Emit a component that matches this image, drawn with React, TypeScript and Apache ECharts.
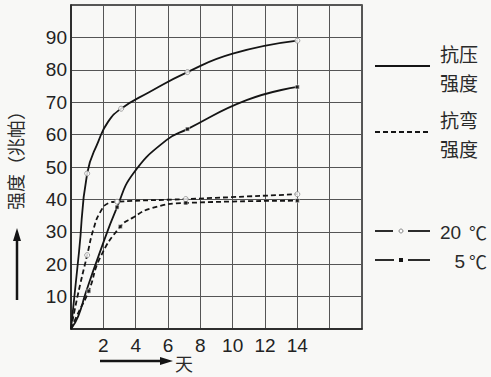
import React, { useEffect, useRef } from 'react';
import * as echarts from 'echarts';

// [day, strength MPa]
const compressive20: number[][] = [[0, 0], [0.5, 24], [1, 48], [1.7, 58], [2.3, 64], [3.1, 68], [4.8, 73], [7.2, 79.3], [10, 85], [14, 89]];
const compressive20Marks: number[][] = [[1, 48], [3.1, 68], [7.2, 79.3], [14, 89]];

const compressive5: number[][] = [[0, 0], [0.45, 4], [0.9, 11], [1.7, 22.5], [2.85, 37.6], [3.85, 48], [5.9, 58.3], [7.2, 61.7], [10.9, 70.7], [14, 74.7]];
const compressive5Marks: number[][] = [[2.85, 37.6], [7.2, 61.7], [14, 74.7]];

const flexural20: number[][] = [[0, 0], [0.4, 10], [1, 22.8], [1.4, 31], [1.8, 36], [2.3, 38.8], [2.85, 39.3], [7.1, 40.1], [14, 41.6]];
const flexural20Marks: number[][] = [[1, 22.8], [2.85, 39.3], [7.1, 40.1], [14, 41.6]];

const flexural5: number[][] = [[0, 0], [0.45, 5], [1.1, 11.7], [1.8, 22], [3.05, 31.6], [3.8, 34.3], [5, 37.3], [7.1, 38.9], [14, 39.6]];
const flexural5Marks: number[][] = [[1.1, 11.7], [3.05, 31.6], [7.1, 38.9], [14, 39.6]];

const xTickLabels = ['2', '4', '6', '8', '10', '12', '14'];
const yTickLabels = ['10', '20', '30', '40', '50', '60', '70', '80', '90'];
const yAxisTitle = '强度（兆帕）';
const xAxisTitle = '天';
const legendCompressive = ['抗压', '强度'];
const legendFlexural = ['抗弯', '强度'];
const legendTemps = ['20', '5'];
const degree = '℃';

const INK = '#151515';
const NUM_FONT = 'Liberation Sans, Arial, sans-serif';
const CJK_FONT = 'Noto Sans CJK SC, sans-serif';

export default function App() {
  const ref = useRef<HTMLDivElement>(null);
  useEffect(() => {
    const chart = echarts.init(ref.current!, null, { renderer: 'svg' });
    const curve = (data: number[][], dashed: boolean) => ({
      type: 'line',
      data,
      smooth: 0.5,
      showSymbol: false,
      symbol: 'none',
      silent: true,
      z: 3,
      lineStyle: { color: INK, width: 1.8, type: dashed ? [5, 3] : 'solid' },
    });
    const marks = (data: number[][], open: boolean) => ({
      type: 'scatter',
      data,
      symbol: open ? 'circle' : 'rect',
      symbolSize: open ? 5 : 4,
      silent: true,
      z: 5,
      itemStyle: open
        ? { color: '#ffffff', borderColor: '#8a8a8a', borderWidth: 1 }
        : { color: INK, borderColor: '#ffffff', borderWidth: 0.6 },
    });
    const text = (t: string, x: number, y: number, extra: any = {}) => ({
      type: 'text',
      x,
      y,
      style: {
        text: t,
        fill: '#2a2a2a',
        fontSize: 19,
        fontFamily: CJK_FONT,
        align: 'left',
        verticalAlign: 'middle',
        ...extra,
      },
    });
    const seg = (x1: number, y1: number, x2: number, y2: number, w = 1.8, dash?: number[]) => ({
      type: 'line',
      shape: { x1, y1, x2, y2 },
      style: { stroke: INK, lineWidth: w, lineDash: dash },
    });

    chart.setOption({
      animation: false,
      backgroundColor: '#f8f8f6',
      grid: {
        left: 71,
        top: 5,
        right: 129,
        bottom: 48,
        show: true,
        borderColor: '#222',
        borderWidth: 1.5,
        backgroundColor: 'transparent',
      },
      xAxis: {
        type: 'value',
        min: 0,
        max: 18,
        interval: 2,
        axisLine: { show: true, lineStyle: { color: '#222', width: 1.5 } },
        axisTick: { show: false },
        splitLine: { show: true, lineStyle: { color: '#555', width: 1 } },
        axisLabel: {
          margin: 7,
          fontSize: 19,
          fontFamily: NUM_FONT,
          color: '#222',
          formatter: (v: number) => (xTickLabels.includes(String(v)) ? String(v) : ''),
        },
      },
      yAxis: {
        type: 'value',
        min: 0,
        max: 100,
        interval: 10,
        axisLine: { show: true, lineStyle: { color: '#222', width: 1.5 } },
        axisTick: { show: false },
        splitLine: { show: true, lineStyle: { color: '#555', width: 1 } },
        axisLabel: {
          margin: 4,
          fontSize: 19,
          fontFamily: NUM_FONT,
          color: '#222',
          formatter: (v: number) => (yTickLabels.includes(String(v)) ? String(v) : ''),
        },
      },
      series: [
        curve(compressive20, false),
        curve(compressive5, false),
        curve(flexural20, true),
        curve(flexural5, true),
        marks(compressive20Marks, true),
        marks(flexural20Marks, true),
        marks(compressive5Marks, false),
        marks(flexural5Marks, false),
      ],
      graphic: [
        // y axis title + arrow
        {
          type: 'text',
          x: 15,
          y: 156,
          rotation: Math.PI / 2,
          style: {
            text: yAxisTitle,
            fill: '#2a2a2a',
            fontSize: 18,
            fontFamily: CJK_FONT,
            align: 'center',
            verticalAlign: 'middle',
          },
        },
        seg(17, 300, 17, 238, 2.5),
        { type: 'polygon', shape: { points: [[17, 228], [13, 241], [21, 241]] }, style: { fill: INK } },
        // x axis title + arrow
        seg(100, 361, 163, 361, 2.5),
        { type: 'polygon', shape: { points: [[173, 361], [160, 357], [160, 365]] }, style: { fill: INK } },
        text(xAxisTitle, 184, 363, { align: 'center', fontSize: 18 }),
        // legend: line styles
        seg(375, 66, 430, 66, 1.8),
        text(legendCompressive[0], 440, 53),
        text(legendCompressive[1], 440, 82),
        seg(375, 132, 429, 132, 1.8, [5, 3]),
        text(legendFlexural[0], 440, 119),
        text(legendFlexural[1], 440, 148),
        // legend: temperatures
        seg(375, 231, 393, 231, 1.8),
        seg(408, 231, 430, 231, 1.8),
        { type: 'circle', shape: { cx: 401, cy: 231, r: 2 }, style: { fill: '#fff', stroke: '#888', lineWidth: 1 } },
        text(legendTemps[0], 440, 232, { fontFamily: NUM_FONT }),
        text(degree, 469, 232, { fontSize: 18 }),
        seg(375, 260, 394, 260, 1.8),
        seg(408, 260, 430, 260, 1.8),
        { type: 'rect', shape: { x: 399, y: 258, width: 4, height: 4 }, style: { fill: INK } },
        text(legendTemps[1], 465, 261, { fontFamily: NUM_FONT, align: 'right' }),
        text(degree, 469, 261, { fontSize: 18 }),
      ],
    });
    return () => chart.dispose();
  }, []);
  return <div ref={ref} style={{ position: 'fixed', left: 0, top: 0, width: 491, height: 377 }} />;
}
